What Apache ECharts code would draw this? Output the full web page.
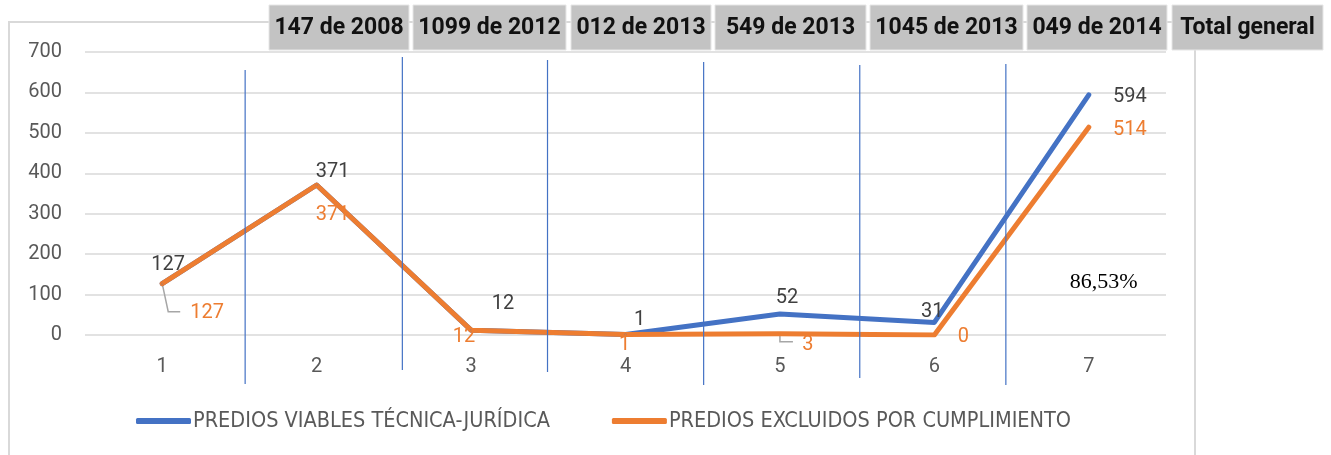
<!DOCTYPE html>
<html>
<head>
<meta charset="utf-8">
<script src="https://cdn.jsdelivr.net/npm/echarts@6/dist/echarts.min.js"></script>
<style>
  html, body { margin: 0; padding: 0; background: #fff; }
  #chart { width: 1331px; height: 455px; }
</style>
</head>
<body>
<div id="chart"></div>
<script>
// datos
const categories = ['1', '2', '3', '4', '5', '6', '7'];
const viables = [127, 371, 12, 1, 52, 31, 594];
const excluidos = [127, 371, 12, 1, 3, 0, 514];
const headers = ['147 de 2008', '1099 de 2012', '012 de 2013', '549 de 2013', '1045 de 2013', '049 de 2014', 'Total general'];
const porcentaje = '86,53%';

// desplazamiento de etiquetas (px)
const viablesDx = [6, 16, 32, 14, 7, -2, 41];
const viablesDy = [-19, -13, -26, -15, -16, -10, 2];
const excluidosDx = [45, 16, -7, -1, 28, 29, 41];
const excluidosDy = [29, 30, 7, 10, 11, 2, 3];

// lineas guia (indice y codo relativo al punto, px)
const guias = [
  { idx: 0, pts: [[0, 0], [6, 28], [18, 28]] },
  { idx: 4, pts: [[0, 0], [0, 8], [13, 8]] }
];

// separadores verticales (en unidades de categoria)
const separadores = [1.537, 2.555, 3.495, 4.506, 5.517, 6.463];
const sepTop = [70, 57, 60, 62, 65, 64];
const sepBottom = [384, 370, 372, 385, 378, 385];

// cajas de encabezado
const headerX = [269, 413, 571, 715, 870, 1027, 1172];
const headerW = [140, 153, 140, 151, 153, 140, 151];

const chart = echarts.init(document.getElementById('chart'));

const labelFont = { fontFamily: 'Roboto, sans-serif', fontSize: 20 };

const option = {
  animation: false,
  grid: { left: 85, right: 165, top: 52, bottom: 120 },
  xAxis: [
    {
      type: 'category',
      data: categories,
      boundaryGap: true,
      axisLine: { show: false },
      axisTick: { show: false },
      axisLabel: { color: '#595959', fontSize: 20, fontFamily: 'Roboto, sans-serif', margin: 22 }
    },
    { type: 'value', min: 0.5, max: 7.5, show: false }
  ],
  yAxis: {
    type: 'value',
    min: 0,
    max: 700,
    interval: 100,
    axisLine: { show: false },
    axisTick: { show: false },
    axisLabel: { color: '#595959', fontSize: 20, fontFamily: 'Roboto, sans-serif', margin: 23 },
    splitLine: { lineStyle: { color: '#d9d9d9', width: 1.5 } }
  },
  legend: {
    left: 131,
    top: 405,
    itemWidth: 55,
    itemHeight: 6,
    itemGap: 62,
    icon: 'roundRect',
    textStyle: { color: '#595959', fontSize: 21.5, fontFamily: '"Liberation Sans Narrow", "DejaVu Sans Condensed", Roboto, sans-serif', padding: [0, 0, 0, -3] },
    data: ['PREDIOS VIABLES TÉCNICA-JURÍDICA', 'PREDIOS EXCLUIDOS POR CUMPLIMIENTO']
  },
  series: [
    {
      name: 'PREDIOS VIABLES TÉCNICA-JURÍDICA',
      type: 'line',
      data: viables,
      symbol: 'circle',
      symbolSize: 2,
      color: '#4472C4',
      lineStyle: { width: 5, cap: 'round', join: 'round' },
      label: { show: true, position: 'inside', color: '#404040', ...labelFont },
      labelLayout: (p) => ({ dx: viablesDx[p.dataIndex], dy: viablesDy[p.dataIndex] })
    },
    {
      name: 'PREDIOS EXCLUIDOS POR CUMPLIMIENTO',
      type: 'line',
      data: excluidos,
      symbol: 'circle',
      symbolSize: 2,
      color: '#ED7D31',
      lineStyle: { width: 5, cap: 'round', join: 'round' },
      label: { show: true, position: 'inside', color: '#ED7D31', ...labelFont },
      labelLayout: (p) => ({ dx: excluidosDx[p.dataIndex], dy: excluidosDy[p.dataIndex] })
    }
  ]
};

chart.setOption(option);

// elementos graficos: borde, encabezados, separadores, guias, porcentaje
const graphics = [
  {
    type: 'rect', z: -10, silent: true,
    shape: { x: 9, y: 22, width: 1186, height: 460 },
    style: { fill: 'none', stroke: '#d9d9d9', lineWidth: 2 }
  }
];
headers.forEach((h, i) => {
  graphics.push({
    type: 'rect', z: 10,
    shape: { x: headerX[i], y: 5, width: headerW[i], height: 45 },
    style: { fill: '#c3c3c3', stroke: '#e6e6e6', lineWidth: 1 }
  });
  graphics.push({
    type: 'text', z: 11,
    x: headerX[i] + headerW[i] / 2, y: 28,
    style: {
      text: h, fill: '#111', fontSize: 23, fontWeight: 'bold',
      fontFamily: 'Roboto, sans-serif', align: 'center', verticalAlign: 'middle'
    }
  });
});
separadores.forEach((s, i) => {
  const x = chart.convertToPixel({ xAxisIndex: 1 }, s);
  graphics.push({
    type: 'line', z: 5, silent: true,
    shape: { x1: x, y1: sepTop[i], x2: x, y2: sepBottom[i] },
    style: { stroke: '#4472C4', lineWidth: 1.2 }
  });
});
guias.forEach((g) => {
  const p = chart.convertToPixel({ xAxisIndex: 0, yAxisIndex: 0 }, [g.idx, excluidos[g.idx]]);
  graphics.push({
    type: 'polyline', z: 1, silent: true,
    shape: { points: g.pts.map(([dx, dy]) => [p[0] + dx, p[1] + dy]) },
    style: { stroke: '#a6a6a6', lineWidth: 1.5, fill: 'none' }
  });
});
const pctPos = chart.convertToPixel({ xAxisIndex: 0, yAxisIndex: 0 }, [6, 130]);
graphics.push({
  type: 'text', z: 6,
  x: pctPos[0] + 15, y: pctPos[1],
  style: {
    text: porcentaje, fill: '#000', fontSize: 22,
    fontFamily: '"Liberation Serif", "Times New Roman", serif', align: 'center', verticalAlign: 'middle'
  }
});
chart.setOption({ graphic: graphics });
</script>
</body>
</html>
